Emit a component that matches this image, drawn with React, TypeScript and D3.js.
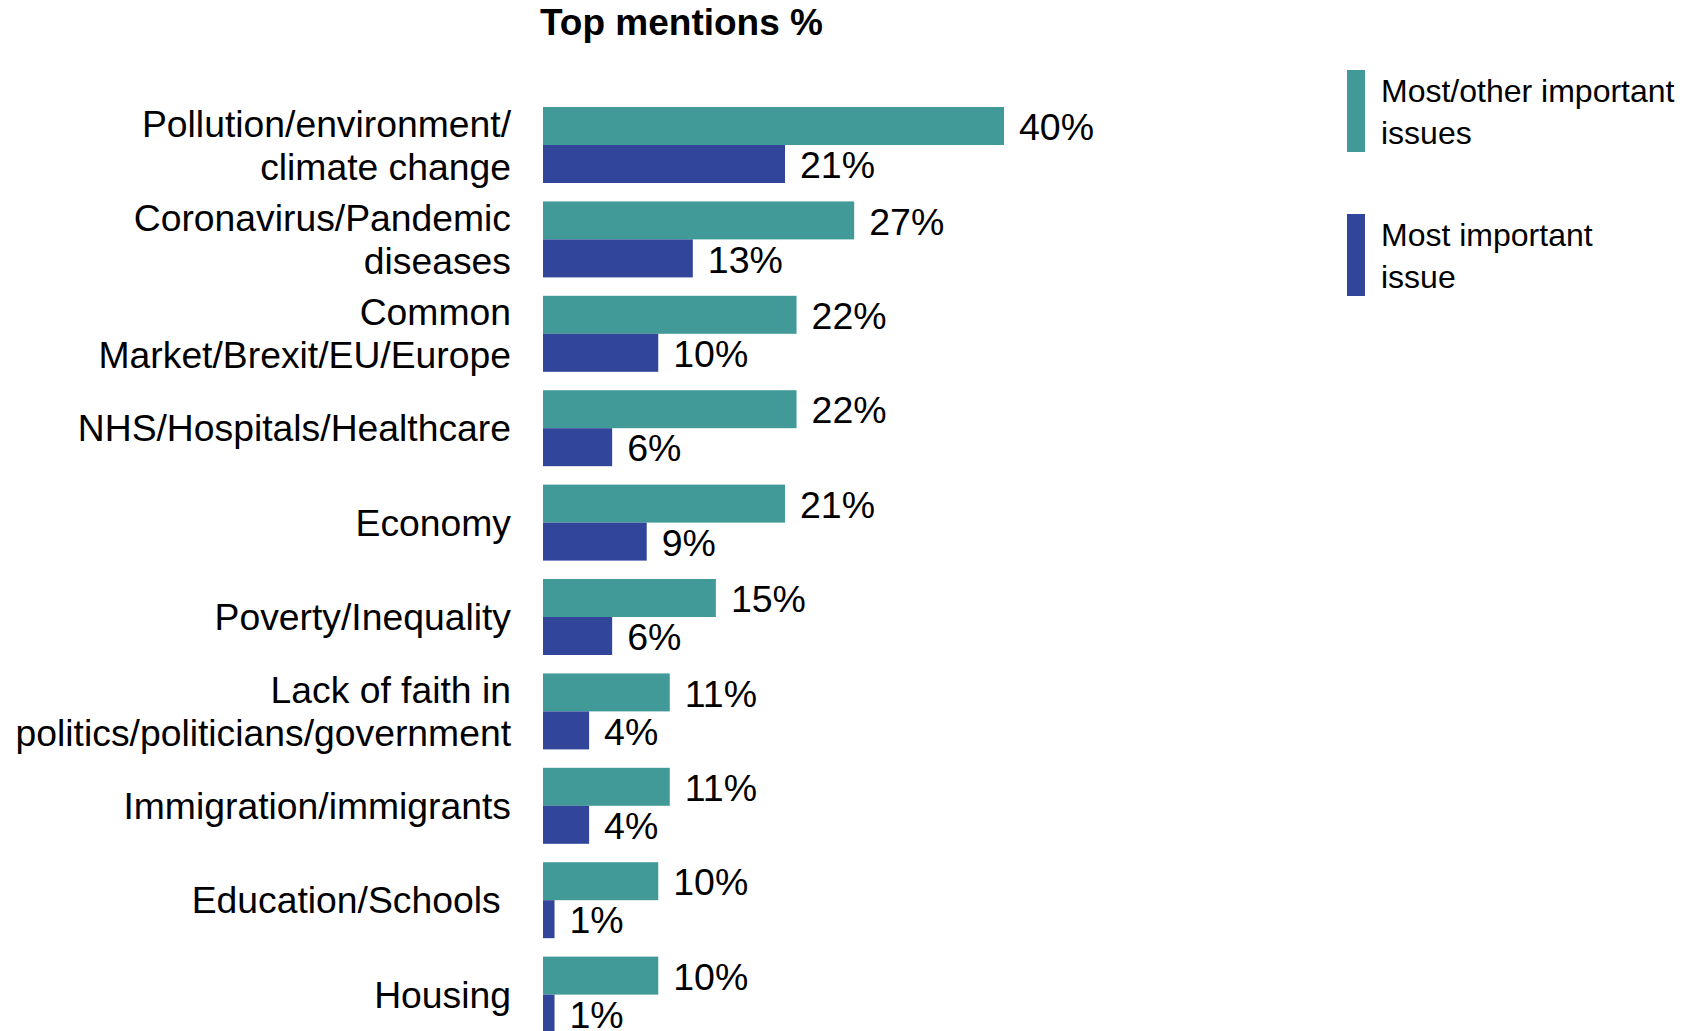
import React from "react";
import * as d3 from "d3";

const categories: string[][] = [
  ["Pollution/environment/", "climate change"],
  ["Coronavirus/Pandemic", "diseases"],
  ["Common", "Market/Brexit/EU/Europe"],
  ["NHS/Hospitals/Healthcare"],
  ["Economy"],
  ["Poverty/Inequality"],
  ["Lack of faith in", "politics/politicians/government"],
  ["Immigration/immigrants"],
  ["Education/Schools\u00a0"],
  ["Housing"],
];
const mostOther: number[] = [40, 27, 22, 22, 21, 15, 11, 11, 10, 10];
const mostImportant: number[] = [21, 13, 10, 6, 9, 6, 4, 4, 1, 1];
const seriesKeys = ["Most/other important issues", "Most important issue"];
const seriesColors = ["#429a98", "#31469b"];
const legendLines: string[][] = [
  ["Most/other important", "issues"],
  ["Most important", "issue"],
];
const title = "Top mentions %";

const W = 1704;
const H = 1031;
const FONT = "'Liberation Sans', Arial, Helvetica, sans-serif";

export default function App() {
  const keys = categories.map((_, i) => String(i));
  const x = d3.scaleLinear().domain([0, 40]).range([543, 1004]);
  const y = d3
    .scaleBand<string>()
    .domain(keys)
    .range([97.8, 1041.8])
    .paddingInner(0.195)
    .paddingOuter(0.0975);
  const ySub = d3
    .scaleBand<string>()
    .domain(seriesKeys)
    .range([0, y.bandwidth()]);
  const series = [mostOther, mostImportant];
  const lineH = 43;

  return (
    <svg
      width={W}
      height={H}
      style={{ position: "absolute", left: 0, top: 0, background: "#fff" }}
      fontFamily={FONT}
    >
      <text x={540} y={35} fontSize={37} fontWeight="bold" fill="#000">
        {title}
      </text>
      {keys.map((k, i) => {
        const gy = y(k)!;
        const cy = gy + y.bandwidth() / 2;
        const lines = categories[i];
        const off = ((lines.length - 1) * lineH) / 2;
        return (
          <g key={k}>
            <text
              x={511}
              textAnchor="end"
              fontSize={37.3}
              fill="#000"
              style={{ whiteSpace: "pre" }}
            >
              {lines.map((ln, j) => (
                <tspan key={j} x={511} y={cy - off + j * lineH} dy="0.35em">
                  {ln}
                </tspan>
              ))}
            </text>
            {seriesKeys.map((s, si) => {
              const v = series[si][i];
              const by = gy + ySub(s)!;
              return (
                <g key={s}>
                  <rect
                    x={x(0)}
                    y={by}
                    width={x(v) - x(0)}
                    height={ySub.bandwidth()}
                    fill={seriesColors[si]}
                  />
                  <text
                    x={x(v) + 15}
                    y={by + ySub.bandwidth() / 2}
                    dy="0.38em"
                    fontSize={37.5}
                    fill="#000"
                  >
                    {v + "%"}
                  </text>
                </g>
              );
            })}
          </g>
        );
      })}
      {seriesKeys.map((s, si) => {
        const top = 70 + si * 144;
        return (
          <g key={s}>
            <rect x={1347} y={top} width={18} height={82} fill={seriesColors[si]} />
            {legendLines[si].map((ln, j) => (
              <text key={j} x={1381} y={top + 32 + j * 41.5} fontSize={32} fill="#000">
                {ln}
              </text>
            ))}
          </g>
        );
      })}
    </svg>
  );
}
